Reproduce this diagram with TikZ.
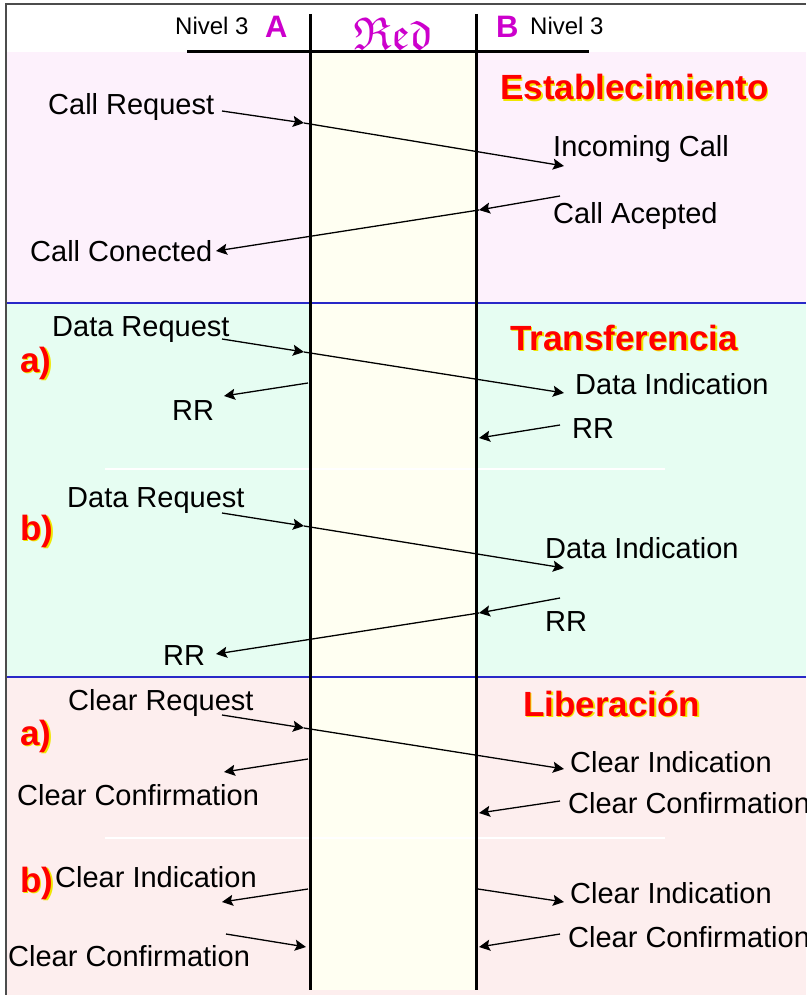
\documentclass[tikz,border=0pt]{standalone}
\usepackage{fontspec}
\setmainfont{Liberation Sans}
\usepackage{amssymb}
\usepackage{graphicx}
\usetikzlibrary{arrows.meta}
\definecolor{estab}{RGB}{253,241,252}
\definecolor{transf}{RGB}{230,253,242}
\definecolor{liber}{RGB}{253,238,238}
\definecolor{redcol}{RGB}{255,255,242}
\definecolor{azul}{RGB}{40,40,200}
\definecolor{nivel}{RGB}{204,0,204}
\definecolor{sombra}{RGB}{240,230,0}

\begin{document}
\begin{tikzpicture}[x=1pt,y=-1pt,
  lbl/.style={anchor=base west,inner sep=0pt,font=\fontsize{29}{32}\selectfont},
  fase/.style={anchor=base west,inner sep=0pt,font=\fontsize{35}{38}\selectfont\bfseries},
  msg/.style={-{Stealth[length=11pt,width=11pt,inset=2pt]},line width=1.3pt},
  capa/.style={line width=3pt}]
\useasboundingbox (0,0) rectangle (806,995);
\fill[white] (0,0) rectangle (806,995);
\fill[estab] (7,52) rectangle (806,303);
\fill[transf] (7,303) rectangle (806,677);
\fill[liber] (7,677) rectangle (806,995);
\fill[redcol] (310,52) rectangle (476,990);
\draw[white,line width=2pt] (105,469) -- (665,469) (105,838) -- (665,838);
\draw[azul,line width=2pt] (7,303) -- (806,303) (7,677) -- (806,677);
\draw[gray!60!black,line width=2pt] (6,995) -- (6,4) -- (806,4);

\node[anchor=base west,inner sep=0pt,font=\fontsize{24}{26}\selectfont] (nivA) at (175,35) {Nivel 3};
\node[anchor=base west,inner sep=0pt,font=\fontsize{31}{33}\selectfont\bfseries,text=nivel] (A) at (265,38) {A};
\node[anchor=base west,inner sep=0pt,font=\fontsize{31}{33}\selectfont\bfseries,text=nivel] (B) at (496,38) {B};
\node[anchor=base west,inner sep=0pt,font=\fontsize{24}{26}\selectfont] (nivB) at (530,35) {Nivel 3};
\node[text=nivel,inner sep=0pt] (red) at (393,34) {\scalebox{4.6}{$\mathfrak{Red}$}};

\foreach \nm/\txt/\px/\py in {estab/Establecimiento/500/100,transf/Transferencia/510/350,
    liber/{Liberación}/523/716,pa1/a)/20/372,pb1/b)/20/540,pa2/a)/20/745,pb2/b)/20/892}
  {\node[fase,text=sombra] at (\px+1.5,\py+1.5) {\txt};
   \node[fase,text=red] (\nm) at (\px,\py) {\txt};}

\node[lbl] (cr) at (48,115) {Call Request};
\node[lbl] (ic) at (553,157) {Incoming Call};
\node[lbl] (ca) at (553,223) {Call Acepted};
\node[lbl] (cc) at (30,261) {Call Conected};
\node[lbl] (dr1) at (52,336) {Data Request};
\node[lbl] (di1) at (575,394) {Data Indication};
\node[lbl] (rr1) at (172,420) {RR};
\node[lbl] (rr2) at (572,438) {RR};
\node[lbl] (dr2) at (67,507) {Data Request};
\node[lbl] (di2) at (545,558) {Data Indication};
\node[lbl] (rr3) at (545,631) {RR};
\node[lbl] (rr4) at (163,665) {RR};
\node[lbl] (clr) at (68,710) {Clear Request};
\node[lbl] (cli1) at (570,772) {Clear Indication};
\node[lbl] (clc1) at (17,805) {Clear Confirmation};
\node[lbl] (clc2) at (568,813) {Clear Confirmation};
\node[lbl] (cli2) at (55,887) {Clear Indication};
\node[lbl] (clc3) at (8,966) {Clear Confirmation};
\node[lbl] (cli3) at (570,903) {Clear Indication};
\node[lbl] (clc4) at (568,947) {Clear Confirmation};

\foreach \n/\x/\y in {m1s/222/111,m1a/304/123,m1e/564/166,
    m2s/560/196,m2a/479/210,m2e/216/251,
    m3s/222/339,m3a/304/352,m3e/564/393,
    m4s/308/383,m4e/224/396,m5s/560/425,m5e/479/438,
    m6s/222/513,m6a/304/526,m6e/564/568,
    m7s/560/598,m7a/479/613,m7e/216/654,
    m8s/222/715,m8a/304/728,m8e/564/769,
    m9s/308/759,m9e/224/772,m10s/560/801,m10e/479/813,
    m11s/308/889,m11e/222/902,m12s/226/934,m12e/306/947,
    m13s/478/889,m13e/564/902,m14s/560/934,m14e/479/947}
  \coordinate (\n) at (\x,\y);

\foreach \a/\b in {m1s/m1a,m1a/m1e,m2s/m2a,m2a/m2e,m3s/m3a,m3a/m3e,m4s/m4e,m5s/m5e,
    m6s/m6a,m6a/m6e,m7s/m7a,m7a/m7e,m8s/m8a,m8a/m8e,m9s/m9e,m10s/m10e,
    m11s/m11e,m12s/m12e,m13s/m13e,m14s/m14e}
  \draw[msg] (\a) -- (\b);

\draw[capa] (187,52) -- (589,52);
\draw[capa] (310,14) -- (310,990);
\draw[capa] (476,14) -- (476,990);
\end{tikzpicture}
\end{document}
